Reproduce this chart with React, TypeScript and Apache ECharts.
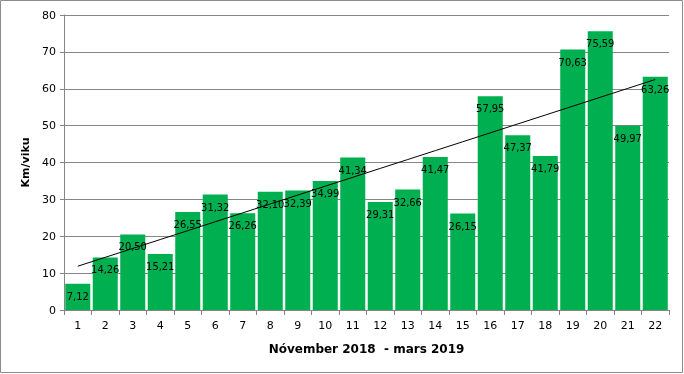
import React, { useEffect, useRef } from "react";
import * as echarts from "echarts";

const categories = ["1","2","3","4","5","6","7","8","9","10","11","12","13","14","15","16","17","18","19","20","21","22"];
const kmPerWeek = [7.12,14.26,20.50,15.21,26.55,31.32,26.26,32.10,32.39,34.99,41.34,29.31,32.66,41.47,26.15,57.95,47.37,41.79,70.63,75.59,49.97,63.26];
const yTicks = { min: 0, max: 80, interval: 10 };
const yTitle = "Km/viku";
const xTitle = "Nóvember 2018  - mars 2019";

function trend(values: number[]): number[] {
  const n = values.length;
  const xs = values.map((_, i) => i + 1);
  const mx = xs.reduce((a, b) => a + b, 0) / n;
  const my = values.reduce((a, b) => a + b, 0) / n;
  let num = 0, den = 0;
  for (let i = 0; i < n; i++) { num += (xs[i] - mx) * (values[i] - my); den += (xs[i] - mx) ** 2; }
  const slope = num / den;
  const icpt = my - slope * mx;
  return xs.map((x) => +(icpt + slope * x).toFixed(3));
}

export default function App() {
  const ref = useRef<HTMLDivElement>(null);
  useEffect(() => {
    const chart = echarts.init(ref.current!, null, { renderer: "svg" });
    const font = "'DejaVu Sans', Verdana, sans-serif";
    const condensed = "'DejaVu Sans Condensed', 'DejaVu Sans', sans-serif";
    chart.setOption({
      animation: false,
      textStyle: { fontFamily: font },
      graphic: [{
        type: "rect", shape: { x: 0.5, y: 0.5, width: 682, height: 372 },
        style: { fill: "none", stroke: "#8c8c8c", lineWidth: 1 }, silent: true, z: -1
      }],
      grid: { left: 64, right: 15, top: 15, bottom: 64 },
      xAxis: {
        type: "category",
        data: categories,
        name: xTitle,
        nameLocation: "middle",
        nameGap: 33,
        nameTextStyle: { fontFamily: font, fontWeight: "bold", fontSize: 12, color: "#000" },
        axisLine: { lineStyle: { color: "#868686", width: 1 } },
        axisTick: { show: true, length: 5, lineStyle: { color: "#868686" } },
        axisLabel: { color: "#000", fontSize: 11, margin: 10, fontFamily: font },
      },
      yAxis: {
        type: "value",
        min: yTicks.min, max: yTicks.max, interval: yTicks.interval,
        name: yTitle,
        nameLocation: "middle",
        nameGap: 31,
        nameRotate: 90,
        nameTextStyle: { fontFamily: font, fontWeight: "bold", fontSize: 11, color: "#000" },
        axisLine: { show: true, lineStyle: { color: "#868686", width: 1 } },
        axisTick: { show: true, length: 4, lineStyle: { color: "#868686" } },
        axisLabel: { color: "#000", fontSize: 11, margin: 8, fontFamily: font },
        splitLine: { lineStyle: { color: "#868686", width: 1 } },
      },
      series: [
        {
          type: "bar",
          data: kmPerWeek,
          barCategoryGap: "9%",
          itemStyle: { color: "#00B050" },
          label: {
            show: true, position: "insideTop", distance: 7,
            color: "#000", fontSize: 11, fontFamily: condensed,
            formatter: (p: any) => p.value.toFixed(2).replace(".", ","),
          },
        },
        {
          type: "line",
          data: trend(kmPerWeek),
          symbol: "none",
          lineStyle: { color: "#000", width: 1 },
          silent: true,
          z: 5,
        },
      ],
    });
    return () => chart.dispose();
  }, []);
  return <div ref={ref} style={{ position: "fixed", left: 0, top: 0, width: 684, height: 374 }} />;
}
